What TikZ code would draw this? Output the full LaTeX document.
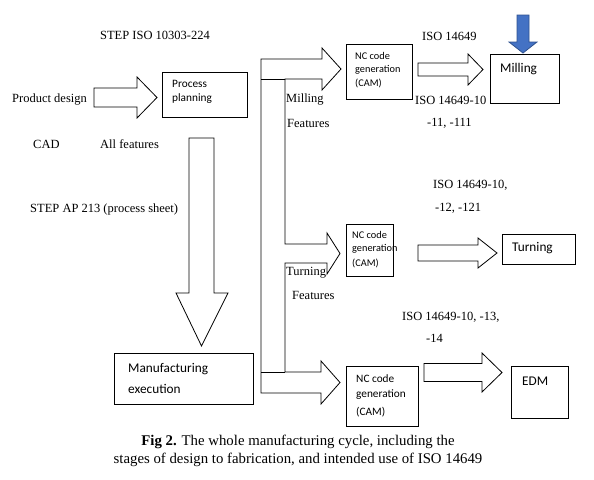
\documentclass[tikz,border=0pt]{standalone}
\usepackage{fontspec}
\setmainfont{Liberation Serif}
\newfontfamily\calfont{Carlito}
\newcommand\blockR[6]{% start x, head base x, tip x, centre y, shaft half, head half
  \draw[outl] (#1,#4-#5) -- (#2,#4-#5) -- (#2,#4-#6) -- (#3,#4) -- (#2,#4+#6) -- (#2,#4+#5) -- (#1,#4+#5) -- cycle;}
\begin{document}
\begin{tikzpicture}[x=1pt,y=-1pt,
  outl/.style={draw=black,line width=0.8pt,line join=miter},
  box/.style={draw=black,line width=0.8pt,inner sep=0pt,anchor=north west},
  ser/.style={font=\fontsize{12.5}{14}\selectfont,inner sep=0pt},
  sansA/.style={font=\calfont\fontsize{10.3}{12}\selectfont,inner sep=0pt,anchor=west},
  sansB/.style={font=\calfont\fontsize{11.3}{13}\selectfont,inner sep=0pt,anchor=west},
  sansC/.style={font=\calfont\fontsize{13.3}{15}\selectfont,inner sep=0pt,anchor=west},
  bluearr/.style={line width=0.8pt,fill={rgb,255:red,68;green,114;blue,196},draw={rgb,255:red,47;green,82;blue,143}}
 ]
\useasboundingbox (0,0) rectangle (594,479);
\fill[white] (0,0) rectangle (594,479);

% boxes
\node[box,minimum width=85pt,minimum height=45pt] (pp) at (162,72) {};
\node[box,minimum width=66pt,minimum height=55pt] (nc1) at (346,44) {};
\node[box,minimum width=69pt,minimum height=49pt] (mill) at (490,54) {};
\node[box,minimum width=47pt,minimum height=52pt] (nc2) at (346,224) {};
\node[box,minimum width=73pt,minimum height=30pt] (turn) at (502,234) {};
\node[box,minimum width=72pt,minimum height=60pt] (nc3) at (346,366) {};
\node[box,minimum width=57pt,minimum height=52pt] (edm) at (511,366) {};
\node[box,minimum width=139pt,minimum height=51pt] (me) at (114,353) {};

% product design -> process planning
\blockR{94}{137}{157}{97.5}{9.5}{20.5}
% down arrow
\draw[outl] (189,138) -- (214,138) -- (214,293) -- (228,293) -- (201.5,346) -- (176,293) -- (189,293) -- cycle;

% fork
\draw[outl] (261,393) -- (261,59) -- (322,59) -- (322,48) -- (341,69) -- (322,90) -- (322,79) -- (285,79)
  -- (285,244) -- (327,244) -- (327,233) -- (340,253.5) -- (327,274) -- (327,263) -- (285,263)
  -- (285,372) -- (321,372) -- (321,361) -- (340,382.5) -- (321,404) -- (321,393) -- cycle;
\draw[outl] (261,79) -- (285,79);
\draw[outl] (261,372) -- (285,372);

% second-stage arrows
\blockR{418}{468}{483}{69.5}{6.5}{15.5}
\blockR{418}{478}{497}{253}{8}{15}
\blockR{424}{482}{502}{372.5}{9}{19.5}

% blue arrow
\draw[bluearr] (517,15) -- (529,15) -- (529,42) -- (537,42) -- (523,53) -- (509,42) -- (517,42) -- cycle;

% serif labels
\node[ser] (t1) at (155,35) {STEP ISO 10303-224};
\node[ser,anchor=west] (t2) at (12,100) {Product design};
\node[ser,anchor=west] (t3) at (33,144) {CAD};
\node[ser,anchor=west] (t4) at (100,144) {All features};
\node[ser,anchor=west] (t5) at (30,209) {STEP AP 213 (process sheet)};
\node[ser,anchor=west] (t6) at (422,36) {ISO 14649};
\node[ser,anchor=west] (t7) at (415,100) {ISO 14649-10};
\node[ser,anchor=west] (t8) at (427,123) {-11, -111};
\node[ser,anchor=west] (t9) at (286,100) {Milling};
\node[ser,anchor=west] (t10) at (287,123) {Features};
\node[ser,anchor=west] (t11) at (433,185) {ISO 14649-10,};
\node[ser,anchor=west] (t12) at (435,208) {-12, -121};
\node[ser,anchor=west] (t13) at (286,273) {Turning};
\node[ser,anchor=west] (t14) at (292,295) {Features};
\node[ser,anchor=west] (t15) at (402,317) {ISO 14649-10, -13,};
\node[ser,anchor=west] (t16) at (426,338) {-14};

% sans labels in boxes
\node[sansB] at (172,84) {Process};
\node[sansB] at (172,99) {planning};
\node[sansA] at (355,56) {NC code};
\node[sansA] at (355,70) {generation};
\node[sansA] at (355,83) {(CAM)};
\node[sansA] at (352,235) {NC code};
\node[sansA] at (352,249) {generation};
\node[sansA] at (352,263) {(CAM)};
\node[sansB] at (356,379) {NC code};
\node[sansB] at (356,395) {generation};
\node[sansB] at (356,412) {(CAM)};
\node[sansC] at (500,69) {Milling};
\node[sansC] at (512,248) {Turning};
\node[sansC] at (522,381) {EDM};
\node[sansC] at (128,369) {Manufacturing};
\node[sansC] at (128,389) {execution};

% caption
\node[font=\fontsize{14.8}{18}\selectfont,align=center,inner sep=0pt] (cap) at (298,451)
  {\textbf{Fig 2.} The whole manufacturing cycle, including the\\stages of design to fabrication, and intended use of ISO 14649};
\end{tikzpicture}
\end{document}
